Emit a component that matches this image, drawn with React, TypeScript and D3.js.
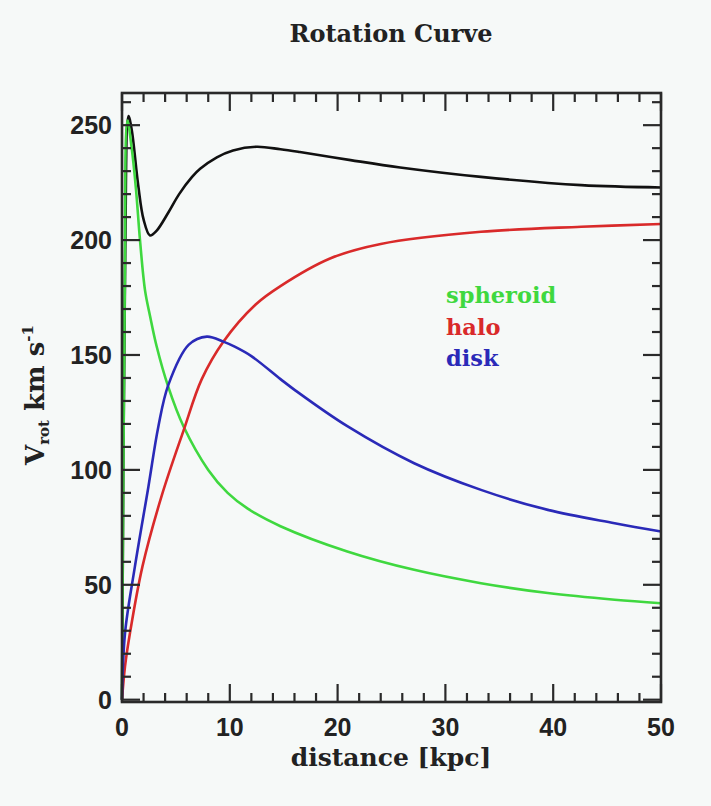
import React, { useRef, useEffect } from "react";
import * as d3 from "d3";

// distances in kpc, velocities in km/s
const totalR = [0, 0.3, 0.6, 0.9, 1.5, 2.0, 2.6, 3.2, 4.3, 5.3, 6.5, 7.25, 8.8, 10.3, 12.5, 14.7, 16.5, 21.2, 25.8, 33.3, 42.6, 50];
const totalV = [0, 195, 254, 248, 224, 209, 202, 204, 212, 220, 227.5, 231, 236, 239, 240.6, 239.5, 238.3, 234.8, 231.6, 227.5, 223.9, 222.9];

const spheroidR = [0, 0.25, 0.5, 0.9, 1.3, 1.67, 2.14, 2.6, 3.2, 4.3, 5.7, 8.0, 9.8, 11.7, 14.7, 20.9, 27.1, 33.3, 39.5, 45.7, 50];
const spheroidV = [0, 175, 252, 240, 222, 200, 178, 167, 154, 136, 119, 100, 90, 83, 75.5, 64.5, 56.5, 50.7, 46.4, 43.5, 42];

const haloR = [0, 0.28, 0.74, 1.9, 3.7, 5.7, 7.4, 9.4, 12.4, 14.7, 19.3, 24, 33.3, 42.6, 50];
const haloV = [0, 14.5, 29, 58, 89, 117, 139.5, 155.8, 172, 180, 192, 198.3, 203.6, 205.8, 207];

const diskR = [0, 0.28, 1.2, 2.45, 3.37, 4.3, 6.2, 7.87, 9.4, 10.5, 12, 14.7, 16.1, 20.9, 27.1, 33.3, 39.5, 45.7, 50];
const diskV = [0, 29, 58, 92.7, 118.8, 137, 154.5, 158, 155.8, 153.5, 149.5, 139.5, 134.5, 119, 102.9, 91.3, 82.6, 76.8, 73.2];

const xMajor = [0, 10, 20, 30, 40, 50];
const yMajor = [0, 50, 100, 150, 200, 250];
const legendNames = ["spheroid", "halo", "disk"];

const W = 711;
const H = 806;
const serif = "'DejaVu Serif', 'Liberation Serif', serif";
const sans = "'Liberation Sans', Arial, sans-serif";

function App() {
  const svgRef = useRef(null);

  useEffect(() => {
    const svg = d3.select(svgRef.current);
    svg.selectAll("*").remove();

    const x = d3.scaleLinear().domain([0, 50]).range([122, 661]);
    const y = d3.scaleLinear().domain([-1, 264]).range([702, 93]);
    const [x0, x1] = x.range();
    const [y0, y1] = y.range();

    svg.append("rect").attr("width", W).attr("height", H).attr("fill", "#f6f9f8");

    // curves
    const series = [
      { r: totalR, v: totalV, color: "#111111" },
      { r: spheroidR, v: spheroidV, color: "#3fd83f" },
      { r: haloR, v: haloV, color: "#d92a2a" },
      { r: diskR, v: diskV, color: "#2a2ab8" },
    ];
    const ln = d3
      .line()
      .x((d) => x(d[0]))
      .y((d) => y(d[1]))
      .curve(d3.curveCatmullRom.alpha(0.5));
    series.forEach((s) => {
      svg
        .append("path")
        .attr("d", ln(s.r.map((r, i) => [r, s.v[i]])))
        .attr("fill", "none")
        .attr("stroke", s.color)
        .attr("stroke-width", 2.6)
        .attr("stroke-linejoin", "round");
    });

    // frame + inward ticks on all four sides
    const ax = svg.append("g").attr("stroke", "#2a2a2a").attr("stroke-width", 2.2);
    ax.append("rect")
      .attr("x", x0)
      .attr("y", y1)
      .attr("width", x1 - x0)
      .attr("height", y0 - y1)
      .attr("fill", "none")
      .attr("stroke-width", 2.6);

    const xMinor = d3.range(0, 51, 2).filter((t) => t % 10 !== 0);
    const yMinor = d3.range(0, 261, 10).filter((t) => t % 50 !== 0);
    const xt = xMajor.map((t) => ({ t, len: 18 })).concat(xMinor.map((t) => ({ t, len: 9 })));
    const yt = yMajor.map((t) => ({ t, len: 18 })).concat(yMinor.map((t) => ({ t, len: 9 })));
    xt.forEach(({ t, len }) => {
      ax.append("line").attr("x1", x(t)).attr("x2", x(t)).attr("y1", y0).attr("y2", y0 - len);
      ax.append("line").attr("x1", x(t)).attr("x2", x(t)).attr("y1", y1).attr("y2", y1 + len);
    });
    yt.forEach(({ t, len }) => {
      ax.append("line").attr("y1", y(t)).attr("y2", y(t)).attr("x1", x0).attr("x2", x0 + len);
      ax.append("line").attr("y1", y(t)).attr("y2", y(t)).attr("x1", x1).attr("x2", x1 - len);
    });

    // tick labels
    svg
      .append("g")
      .selectAll("text")
      .data(xMajor)
      .join("text")
      .attr("x", (d) => x(d))
      .attr("y", 736)
      .attr("text-anchor", "middle")
      .style("font", `bold 25px ${sans}`)
      .attr("fill", "#222")
      .text((d) => d);
    svg
      .append("g")
      .selectAll("text")
      .data(yMajor)
      .join("text")
      .attr("x", 112)
      .attr("y", (d) => y(d) + 9)
      .attr("text-anchor", "end")
      .style("font", `bold 25px ${sans}`)
      .attr("fill", "#222")
      .text((d) => d);

    // titles
    svg
      .append("text")
      .attr("x", 391)
      .attr("y", 42)
      .attr("text-anchor", "middle")
      .style("font", `bold 24px ${serif}`)
      .attr("fill", "#222")
      .text("Rotation Curve");
    svg
      .append("text")
      .attr("x", 391)
      .attr("y", 766)
      .attr("text-anchor", "middle")
      .style("font", `bold 25px ${serif}`)
      .attr("fill", "#222")
      .text("distance [kpc]");

    const yl = svg
      .append("text")
      .attr("transform", "translate(44,395) rotate(-90)")
      .attr("text-anchor", "middle")
      .style("font", `bold 26px ${serif}`)
      .attr("fill", "#222");
    yl.append("tspan").text("V");
    yl.append("tspan").attr("dy", 5).style("font-size", "15px").text("rot");
    yl.append("tspan").attr("dy", -5).text(" km s");
    yl.append("tspan").attr("dy", -11).style("font-size", "15px").text("-1");

    // legend
    const legendColors = ["#3fd83f", "#d92a2a", "#2a2ab8"];
    svg
      .append("g")
      .selectAll("text")
      .data(legendNames)
      .join("text")
      .attr("x", 446)
      .attr("y", (d, i) => 303 + i * 31.5)
      .style("font", `bold 22.5px ${serif}`)
      .attr("fill", (d, i) => legendColors[i])
      .text((d) => d);
  }, []);

  return (
    <svg
      ref={svgRef}
      width={W}
      height={H}
      style={{ position: "absolute", left: 0, top: 0, display: "block" }}
    ></svg>
  );
}

export default App;
